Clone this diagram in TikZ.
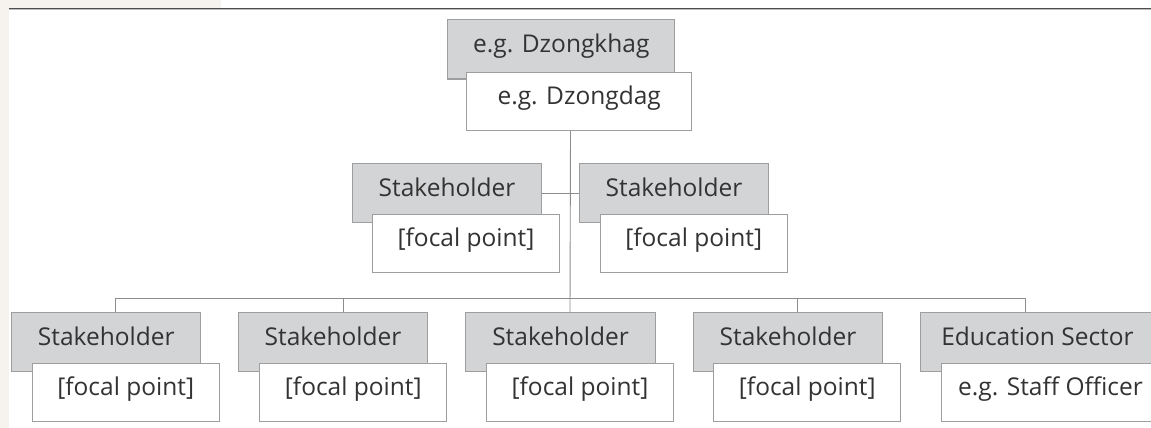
\documentclass[tikz,border=0pt]{standalone}
\usepackage{fontspec}
\setmainfont{Open Sans}
\definecolor{pagebeige}{HTML}{F6F3EE}
\definecolor{rulegray}{HTML}{4D4D4D}
\definecolor{rulelight}{HTML}{BDBDBD}
\definecolor{boxgray}{HTML}{D3D4D6}
\definecolor{boxline}{HTML}{9E9E9E}
\definecolor{linkgray}{HTML}{8C8C8C}
\definecolor{txt}{HTML}{333333}
\tikzset{
  basebox/.style={draw=boxline, line width=1pt, inner sep=0pt, text=txt,
    font=\fontsize{24.5}{24.5}\selectfont, text height=0.6em, text depth=0pt},
  graybox/.style={basebox, fill=boxgray, minimum width=189.3pt, minimum height=58.7pt},
  whitebox/.style={basebox, fill=white, minimum width=186.7pt, minimum height=57.7pt},
  link/.style={draw=linkgray, line width=0.9pt}
}
\begin{document}
\begin{tikzpicture}[x=1pt,y=-1pt]
\useasboundingbox (0,0) rectangle (1151,428);
\clip (0,0) rectangle (1151,428);
% page background details
\fill[pagebeige] (0,0) rectangle (8.7,428);
\fill[pagebeige] (0,0) rectangle (221,8);
\draw[rulegray, line width=1.2pt] (9,8.4) -- (1151,8.4);
\draw[rulelight, line width=0.8pt] (9,9.8) -- (1151,9.8);

% connector coordinates
\coordinate (hub) at (570,298.3);
\coordinate (p1) at (115.7,312.3);
\coordinate (p2) at (343,312.3);
\coordinate (p3) at (570,312.3);
\coordinate (p4) at (797.3,312.3);
\coordinate (p5) at (1025,312.3);
\coordinate (top) at (570.5,130);

% connectors
\draw[link] (top) -- (p3);
\draw[link] (p1) |- (hub) -| (p5);
\draw[link] (p2) -- (p2 |- hub);
\draw[link] (p4) -- (p4 |- hub);

% top pair
\node[graybox, minimum width=227.3pt, minimum height=59pt] (tg) at (561.3,49.5) {e.g. Dzongkhag};
\node[whitebox, minimum width=225pt] (tw) at (579.2,101.2) {e.g. Dzongdag};

% middle pairs
\node[graybox] (mg1) at (447,193.3) {Stakeholder};
\node[graybox] (mg2) at (674,193.3) {Stakeholder};
\draw[link] (mg1.east) -- (mg2.west);
\node[whitebox] (mw1) at (466,243.8) {[focal point]};
\node[whitebox] (mw2) at (693.7,243.8) {[focal point]};

% bottom pairs
\node[graybox] (bg1) at (106.3,342) {Stakeholder};
\node[graybox] (bg2) at (333,342) {Stakeholder};
\node[graybox] (bg3) at (560.6,342) {Stakeholder};
\node[graybox] (bg4) at (788,342) {Stakeholder};
\node[graybox, minimum width=235pt] (bg5) at (1037.5,342) {Education Sector};
\node[whitebox] (bw1) at (125.7,392.5) {[focal point]};
\node[whitebox] (bw2) at (353.3,392.5) {[focal point]};
\node[whitebox] (bw3) at (580,392.5) {[focal point]};
\node[whitebox] (bw4) at (807.3,392.5) {[focal point]};
\node[whitebox, minimum width=219pt] (bw5) at (1050.5,392.5) {e.g. Staff Officer};
\end{tikzpicture}
\end{document}
